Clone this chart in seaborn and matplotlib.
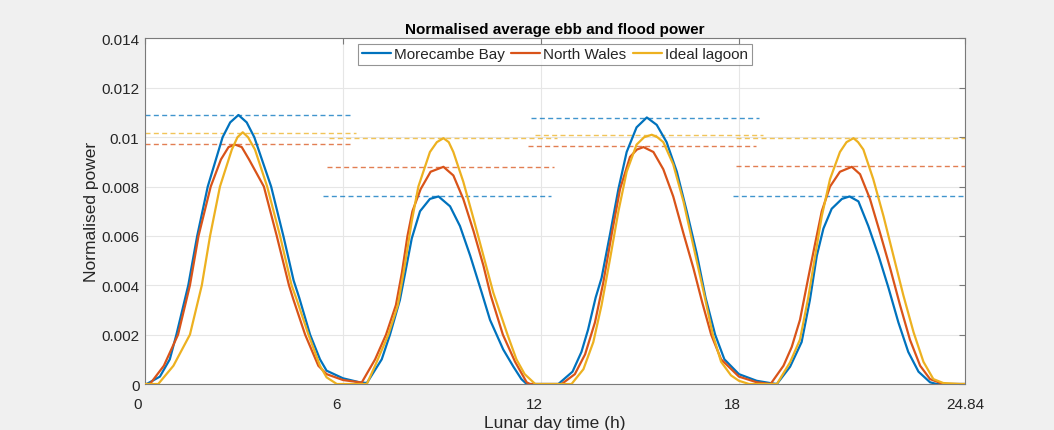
import matplotlib
matplotlib.use("Agg")
import matplotlib.pyplot as plt
import matplotlib.transforms as mtransforms
import numpy as np
import seaborn as sns

# ----------------------------------------------
# Data
# ----------------------------------------------
# Morecambe Bay (blue)
mb_t = [0, 0.05, 0.45, 0.75, 0.95, 1.31, 1.58, 1.9, 2.35, 2.58, 2.83, 3.08, 3.31, 3.82, 4.19, 4.5, 4.67, 5.0, 5.3, 5.5, 6.0, 6.5, 6.72,
        7.17, 7.42, 7.72, 7.88, 8.08, 8.33, 8.63, 8.89, 9.24, 9.54, 9.85, 10.2, 10.45, 10.65, 10.85, 11.16, 11.4, 11.56,
        12.52, 12.95, 13.22, 13.42, 13.65, 13.83, 14.09, 14.34, 14.59, 14.89, 15.2, 15.5, 15.8, 16.11, 16.41, 16.71, 16.98, 17.27, 17.55, 17.99, 18.53, 18.93, 19.14,
        19.54, 19.89, 20.14, 20.35, 20.55, 20.8, 21.11, 21.34, 21.61, 21.91, 22.22, 22.52, 22.82, 23.12, 23.43, 23.78, 23.98, 24.84]
mb_p = [0, 0, 0.0003, 0.001, 0.002, 0.004, 0.006, 0.008, 0.01, 0.0106, 0.0109, 0.0106, 0.01, 0.008, 0.006, 0.0042, 0.0035, 0.002, 0.001, 0.00054, 0.00023, 0.00007, 0.00004,
        0.001, 0.002, 0.0034, 0.0045, 0.0059, 0.007, 0.0075, 0.0076, 0.0072, 0.0064, 0.0052, 0.0037, 0.0026, 0.002, 0.0014, 0.0007, 0.0002, 0,
        0, 0.0005, 0.0013, 0.0022, 0.0035, 0.0043, 0.0061, 0.0079, 0.0094, 0.0104, 0.0108, 0.0105, 0.0098, 0.0086, 0.007, 0.0053, 0.0035, 0.002, 0.001, 0.0004, 0.00013, 0.00004, 0,
        0.0007, 0.0017, 0.0034, 0.0052, 0.0063, 0.0071, 0.0075, 0.0076, 0.0074, 0.0064, 0.0052, 0.0039, 0.0025, 0.0013, 0.0005, 0.00007, 0, 0]

# North Wales (red)
nw_t = [0, 0.15, 0.57, 1.0, 1.36, 1.62, 1.99, 2.3, 2.53, 2.73, 2.93, 3.15, 3.6, 3.99, 4.36, 4.49, 4.85, 5.25, 5.5, 6.0, 6.5, 6.56,
        6.97, 7.3, 7.6, 7.78, 7.95, 8.1, 8.35, 8.65, 9.04, 9.34, 9.64, 9.95, 10.25, 10.47, 10.84, 11.21, 11.56, 11.66,
        12.62, 13.02, 13.33, 13.63, 13.88, 14.14, 14.39, 14.69, 14.9, 15.1, 15.4, 15.7, 16.0, 16.31, 16.61, 16.88, 17.15, 17.45, 17.99, 18.53, 18.95,
        19.34, 19.59, 19.84, 20.09, 20.3, 20.5, 20.75, 21.05, 21.41, 21.66, 21.96, 22.27, 22.57, 22.87, 23.17, 23.48, 23.78, 24.18, 24.84]
nw_p = [0, 0, 0.00074, 0.002, 0.004, 0.006, 0.008, 0.0091, 0.0096, 0.0097, 0.0096, 0.0091, 0.008, 0.006, 0.004, 0.00344, 0.002, 0.00074, 0.0004, 0.00016, 0.00007, 0.00005,
        0.001, 0.002, 0.0032, 0.0045, 0.006, 0.007, 0.0079, 0.0086, 0.0088, 0.00845, 0.0075, 0.0062, 0.0048, 0.0036, 0.002, 0.0009, 0.00007, 0,
        0, 0.0004, 0.0012, 0.0025, 0.0041, 0.0061, 0.0079, 0.0092, 0.0095, 0.0096, 0.0094, 0.0087, 0.0076, 0.0061, 0.0047, 0.0033, 0.002, 0.001, 0.0003, 0.00007, 0,
        0.00074, 0.0015, 0.0026, 0.0043, 0.0057, 0.007, 0.008, 0.0086, 0.0088, 0.0085, 0.0075, 0.0061, 0.0047, 0.0032, 0.0018, 0.00074, 0.0002, 0, 0]

# Ideal lagoon (yellow)
il_t = [0, 0.4, 0.86, 1.36, 1.72, 1.97, 2.27, 2.63, 2.8, 2.96, 3.12, 3.33, 3.7, 4.09, 4.44, 4.6, 4.95, 5.3, 5.5, 5.81, 6.72,
        7.02, 7.37, 7.66, 7.88, 8.08, 8.28, 8.63, 8.84, 9.04, 9.2, 9.34, 9.64, 9.95, 10.25, 10.55, 10.98, 11.25, 11.5, 11.82,
        12.92, 13.28, 13.58, 13.83, 14.09, 14.34, 14.59, 14.89, 15.12, 15.35, 15.52, 15.7, 16.0, 16.31, 16.61, 16.91, 17.2, 17.45, 17.75, 17.99, 18.3,
        19.14, 19.54, 19.84, 20.09, 20.3, 20.5, 20.75, 21.05, 21.25, 21.46, 21.6, 21.76, 22.06, 22.37, 22.67, 22.97, 23.28, 23.58, 23.88, 24.18, 24.69, 24.84]
il_p = [0, 0, 0.00074, 0.002, 0.004, 0.006, 0.008, 0.0095, 0.01, 0.0102, 0.01, 0.0095, 0.008, 0.006, 0.004, 0.0034, 0.002, 0.00074, 0.00027, 0, 0,
        0.0009, 0.002, 0.0032, 0.0049, 0.0066, 0.008, 0.0094, 0.0098, 0.00996, 0.0098, 0.0094, 0.0082, 0.0067, 0.0052, 0.0037, 0.002, 0.001, 0.0004, 0,
        0, 0.0006, 0.0017, 0.0032, 0.0051, 0.007, 0.0086, 0.0097, 0.01, 0.0101, 0.01, 0.0098, 0.0089, 0.0074, 0.0056, 0.0038, 0.002, 0.0009, 0.00035, 0.00013, 0,
        0, 0.00088, 0.0018, 0.0035, 0.0052, 0.0068, 0.0083, 0.0094, 0.0098, 0.00996, 0.0098, 0.0095, 0.0083, 0.0068, 0.0052, 0.0036, 0.0021, 0.0009, 0.0002, 0.00004, 0, 0]

# Average ebb / flood power levels (dashed segments)
mb_avg_start = [0, 5.38, 11.69, 17.8]
mb_avg_end = [6.24, 12.29, 18.61, 24.84]
mb_avg_level = [0.0109, 0.00762, 0.01078, 0.00762]

nw_avg_start = [0, 5.5, 11.59, 17.9]
nw_avg_end = [6.21, 12.4, 18.5, 24.84]
nw_avg_level = [0.00973, 0.0088, 0.00965, 0.00884]

il_avg_start = [0, 5.57, 11.8, 17.9]
il_avg_end = [6.39, 12.49, 18.71, 24.84]
il_avg_level = [0.01016, 0.00996, 0.0101, 0.00996]

series_names = ["Morecambe Bay", "North Wales", "Ideal lagoon"]
x_ticks = [0, 6, 12, 18, 24.84]
x_tick_labels = ["0", "6", "12", "18", "24.84"]
y_ticks = [0, 0.002, 0.004, 0.006, 0.008, 0.01, 0.012, 0.014]
y_tick_labels = ["0", "0.002", "0.004", "0.006", "0.008", "0.01", "0.012", "0.014"]

colors = ["#0072BD", "#D95319", "#EDB120"]

# ----------------------------------------------
# Plot
# ----------------------------------------------
sns.set_style("white")
plt.rcParams['font.family'] = ['Liberation Sans', 'DejaVu Sans']

fig = plt.figure(figsize=(10.54, 4.31), dpi=100, facecolor="#f0f0f0")
ax = fig.add_axes([0.1376, 0.1067, 0.778, 0.8017])
ax.set_facecolor("white")

# dashed average levels first (behind the curves)
avg_sets = [(mb_avg_start, mb_avg_end, mb_avg_level),
            (nw_avg_start, nw_avg_end, nw_avg_level),
            (il_avg_start, il_avg_end, il_avg_level)]
for (starts, ends, levels), c in zip(avg_sets, colors):
    ax.hlines(levels, starts, ends, colors=c, linestyles=(0, (3.6, 2.4)),
              linewidth=1.0, alpha=0.75, zorder=2)

for t, p, c, name in zip([mb_t, nw_t, il_t], [mb_p, nw_p, il_p], colors, series_names):
    sns.lineplot(x=t, y=p, ax=ax, color=c, linewidth=1.6, estimator=None,
                 sort=False, label=name, zorder=3)

ax.set_xlim(0, 24.84)
ax.set_ylim(0, 0.014)
ax.set_xticks(x_ticks)
ax.set_xticklabels(x_tick_labels)
ax.set_yticks(y_ticks)
ax.set_yticklabels(y_tick_labels)

ax.grid(True, color="#e6e6e6", linewidth=0.8, zorder=0)
ax.set_axisbelow(True)

for s in ax.spines.values():
    s.set_visible(True)
    s.set_color("#7a7a7a")
    s.set_linewidth(0.8)

ax.tick_params(axis="both", direction="in", length=4, width=0.8, color="#7a7a7a",
               labelsize=11, labelcolor="#262626", top=True, right=True)
ax.tick_params(axis="x", pad=9)
ax.tick_params(axis="y", pad=4)

# MATLAB-style slight left shift of the inner x tick labels
shift = mtransforms.ScaledTranslation(-7 / 100, 0, fig.dpi_scale_trans)
for lab in ax.get_xticklabels()[:-1]:
    lab.set_transform(lab.get_transform() + shift)

ax.set_xlabel("Lunar day time (h)", fontsize=12.5, color="#262626", labelpad=3)
ax.set_ylabel("Normalised power", fontsize=12.5, color="#262626", labelpad=2)
ax.set_title("Normalised average ebb and flood power", fontsize=11,
             fontweight="bold", color="black", pad=4)

leg = ax.legend(loc="upper center", bbox_to_anchor=(0.5, 0.985), ncol=3,
                fontsize=11, frameon=True, fancybox=False, edgecolor="#7a7a7a",
                handlelength=1.9, handletextpad=0.2, columnspacing=0.4,
                borderpad=0.25, borderaxespad=0.0)
leg.get_frame().set_linewidth(0.8)
for txt in leg.get_texts():
    txt.set_color("#262626")

fig.savefig("out.png", dpi=100, facecolor=fig.get_facecolor())
